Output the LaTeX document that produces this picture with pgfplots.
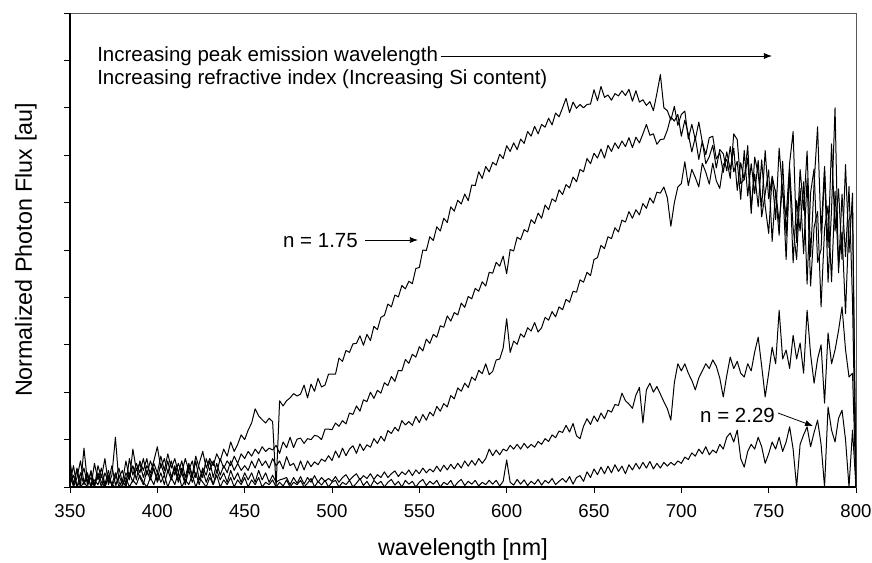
\documentclass[border=0pt]{standalone}
\usepackage{fontspec}
\setmainfont{Liberation Sans}
\usepackage{pgfplots}
\usepackage{pgfplotstable}
\pgfplotsset{compat=1.18}
\usetikzlibrary{arrows.meta}

\pgfplotstableread{
x c1 c2 c3 c4 c5
350 0.55 0.10 0.30 0.05 0.20
352 0.05 0.45 0.00 0.25 0.05
354 0.40 0.00 0.20 0.00 0.35
356 0.00 0.30 0.55 0.15 0.00
358 0.82 0.05 0.10 0.40 0.10
360 0.10 0.25 0.00 0.05 0.30
362 0.30 0.00 0.35 0.20 0.00
364 0.00 0.50 0.05 0.00 0.15
366 0.45 0.15 0.25 0.30 0.05
368 0.20 0.40 0.00 0.10 0.25
370 0.60 0.05 0.30 0.00 0.00
372 0.05 0.35 0.10 0.25 0.20
374 0.25 0.00 0.45 0.05 0.05
376 1.05 0.20 0.05 0.30 0.00
378 0.10 0.40 0.20 0.00 0.25
380 0.00 0.10 0.35 0.15 0.05
382 0.30 0.55 0.05 0.00 0.20
384 0.15 0.20 0.60 0.30 0.00
386 0.80 0.45 0.25 0.10 0.15
388 0.35 0.15 0.50 0.40 0.05
390 0.50 0.55 0.30 0.20 0.25
392 0.20 0.35 0.60 0.05 0.10
394 0.45 0.60 0.25 0.35 0.00
396 0.30 0.20 0.55 0.15 0.20
398 0.55 0.50 0.35 0.40 0.05
400 0.85 0.30 0.15 0.10 0.30
402 0.40 0.65 0.50 0.30 0.10
404 0.60 0.35 0.25 0.05 0.25
406 0.30 0.70 0.55 0.35 0.00
408 0.55 0.40 0.20 0.15 0.20
410 0.25 0.60 0.45 0.40 0.05
412 0.50 0.30 0.15 0.10 0.30
414 0.30 0.55 0.40 0.30 0.00
416 0.60 0.20 0.10 0.05 0.15
418 0.35 0.50 0.45 0.35 0.05
420 0.55 0.25 0.20 0.10 0.25
422 0.20 0.65 0.55 0.30 0.00
424 0.50 0.40 0.15 0.05 0.20
426 0.75 0.20 0.40 0.35 0.10
428 0.40 0.60 0.25 0.10 0.00
430 0.60 0.35 0.55 0.30 0.20
432 0.45 0.55 0.20 0.05 0.05
434 0.70 0.30 0.50 0.35 0.25
436 0.55 0.60 0.25 0.15 0.00
438 0.80 0.40 0.45 0.30 0.15
440 0.65 0.55 0.30 0.10 0.05
442 0.95 0.45 0.55 0.35 0.20
444 0.75 0.65 0.35 0.15 0.00
446 0.90 0.50 0.50 0.30 0.15
448 1.10 0.70 0.35 0.10 0.05
450 1.00 0.60 0.45 0.30 0.20
452 1.20 0.75 0.35 0.15 0.00
454 1.35 0.65 0.55 0.30 0.15
456 1.65 0.80 0.40 0.10 0.05
458 1.50 0.70 0.60 0.35 0.20
460 1.42 0.85 0.45 0.15 0.00
462 1.35 0.75 0.55 0.30 0.10
464 1.45 0.82 0.40 0.10 0.05
466 1.38 0.78 0.60 0.25 0.15
468 0.00 0.88 0.45 0.10 0.00
470 1.82 0.71 0.55 0.15 0.10
472 1.71 0.95 0.38 0.17 0.02
474 1.82 0.83 0.64 0.20 0.15
476 1.88 1.05 0.45 0.05 0.00
478 1.97 0.83 0.50 0.20 0.10
480 1.92 1.01 0.34 0.08 0.05
482 1.96 1.03 0.55 0.22 0.14
484 2.15 0.92 0.36 0.06 0.00
486 1.88 1.02 0.55 0.20 0.08
488 2.17 1.00 0.43 0.10 0.18
490 2.02 1.09 0.53 0.24 0.00
492 2.29 1.07 0.47 0.10 0.12
494 2.11 1.00 0.59 0.20 0.04
496 2.15 1.22 0.54 0.12 0.14
498 2.38 1.22 0.66 0.18 0.00
500 2.38 1.21 0.56 0.12 0.10
502 2.38 1.35 0.76 0.22 0.14
504 2.72 1.28 0.62 0.10 0.00
506 2.65 1.40 0.82 0.20 0.10
508 2.88 1.33 0.66 0.26 0.05
510 2.84 1.56 0.80 0.14 0.14
512 3.02 1.53 0.87 0.22 0.00
514 3.03 1.71 0.71 0.28 0.08
516 3.19 1.60 0.91 0.15 0.18
518 2.99 1.84 0.77 0.24 0.03
520 3.22 1.80 0.89 0.18 0.12
522 3.09 2.00 0.84 0.28 0.00
524 3.39 1.87 1.02 0.16 0.14
526 3.32 2.04 0.92 0.26 0.06
528 3.58 1.98 1.07 0.20 0.12
530 3.62 2.20 0.97 0.32 0.00
532 3.86 2.14 1.19 0.20 0.10
534 3.80 2.33 1.13 0.28 0.16
536 4.05 2.23 1.26 0.34 0.04
538 4.01 2.46 1.18 0.22 0.12
540 4.25 2.45 1.40 0.32 0.00
542 4.18 2.69 1.31 0.26 0.14
544 4.34 2.61 1.38 0.36 0.06
546 4.29 2.80 1.30 0.24 0.12
548 4.61 2.74 1.49 0.36 0.00
550 4.63 2.96 1.36 0.28 0.10
552 5.00 2.87 1.53 0.40 0.16
554 4.99 3.12 1.41 0.30 0.03
556 5.28 3.03 1.58 0.38 0.12
558 5.20 3.22 1.50 0.32 0.06
560 5.49 3.16 1.70 0.44 0.14
562 5.40 3.40 1.60 0.33 0.00
564 5.67 3.37 1.76 0.46 0.10
566 5.58 3.61 1.69 0.36 0.05
568 5.91 3.50 1.93 0.48 0.14
570 5.82 3.68 1.86 0.38 0.00
572 6.05 3.63 2.09 0.50 0.10
574 5.97 3.88 2.02 0.40 0.16
576 6.18 3.79 2.19 0.55 0.03
578 6.04 4.02 2.10 0.44 0.12
580 6.37 3.97 2.32 0.56 0.06
582 6.36 4.19 2.25 0.46 0.14
584 6.65 4.13 2.46 0.60 0.02
586 6.51 4.33 2.39 0.50 0.10
588 6.76 4.24 2.60 0.60 0.05
590 6.65 4.53 2.37 0.80 0.14
592 6.85 4.51 2.44 0.66 0.06
594 6.79 4.74 2.68 0.78 0.14
596 7.02 4.66 2.70 0.68 0.02
598 6.93 4.87 2.93 0.80 0.12
600 7.20 4.50 3.55 0.76 0.57
602 7.08 5.01 2.84 0.88 0.10
604 7.26 4.98 3.08 0.80 0.04
606 7.12 5.27 3.01 0.90 0.16
608 7.34 5.22 3.23 0.80 0.06
610 7.25 5.43 3.16 0.92 0.15
612 7.50 5.38 3.36 0.82 0.03
614 7.40 5.64 3.29 0.90 0.12
616 7.61 5.56 3.47 0.84 0.06
618 7.45 5.78 3.27 0.96 0.16
620 7.65 5.67 3.36 0.90 0.04
622 7.59 5.95 3.58 1.02 0.14
624 7.78 5.85 3.52 0.96 0.08
626 7.64 6.08 3.70 1.10 0.18
628 7.89 6.02 3.59 1.04 0.05
630 7.81 6.27 3.80 1.18 0.12
632 8.00 6.17 3.74 1.15 0.18
634 8.20 6.38 3.96 1.30 0.10
636 7.90 6.31 3.90 1.16 0.22
638 8.12 6.54 4.13 1.34 0.06
640 7.99 6.44 4.11 1.08 0.20
642 8.07 6.70 4.37 1.02 0.24
644 8.00 6.65 4.32 1.28 0.12
646 8.07 6.93 4.53 1.44 0.32
648 8.08 6.82 4.46 1.32 0.20
650 8.38 7.04 4.80 1.50 0.38
652 8.15 6.94 4.84 1.38 0.26
654 8.45 7.13 5.10 1.56 0.42
656 8.22 6.94 5.03 1.44 0.28
658 8.27 7.21 5.28 1.62 0.44
660 8.16 7.08 5.24 1.58 0.30
662 8.30 7.26 5.47 1.74 0.47
664 8.25 7.14 5.38 1.72 0.33
666 8.36 7.30 5.63 1.98 0.44
668 8.26 7.18 5.59 1.82 0.28
670 8.39 7.37 5.81 1.75 0.47
672 8.14 7.16 5.67 1.66 0.36
674 8.36 7.38 5.85 1.94 0.50
676 8.12 7.26 5.74 2.10 0.38
678 8.17 7.45 5.98 1.35 0.52
680 8.05 7.65 5.88 2.05 0.40
682 8.13 7.42 6.10 2.19 0.54
684 7.94 7.45 5.99 2.00 0.38
686 8.30 7.23 6.22 2.12 0.50
688 8.70 7.33 6.20 1.96 0.40
690 8.00 7.34 6.33 1.80 0.52
692 7.94 7.53 6.10 1.65 0.44
694 7.74 7.81 5.50 1.41 0.52
696 8.03 7.72 6.00 2.20 0.46
698 7.63 7.86 6.33 2.60 0.55
700 7.86 7.40 6.40 2.45 0.50
702 7.93 7.74 6.86 2.60 0.63
704 7.34 7.45 6.36 2.40 0.58
706 7.65 7.07 6.70 2.25 0.72
708 7.33 7.38 6.53 2.05 0.65
710 7.70 6.91 6.33 2.30 0.80
712 7.28 7.30 6.83 2.45 0.70
714 7.01 6.82 6.64 2.60 0.85
716 7.37 6.97 6.39 2.50 0.68
718 7.40 7.21 6.83 2.68 0.78
720 6.92 6.73 6.46 2.55 0.72
722 7.05 7.12 6.30 2.30 0.90
724 6.64 7.03 6.80 1.90 0.80
726 7.07 6.67 6.91 2.35 1.05
728 6.69 7.18 6.51 2.74 1.14
730 7.15 6.65 7.45 2.50 0.95
732 6.26 6.87 7.33 2.65 1.20
734 6.84 6.07 6.40 2.40 0.60
736 6.48 7.10 6.49 2.32 0.42
738 7.20 6.14 6.94 2.60 0.75
740 5.89 6.82 5.77 2.45 0.90
742 6.60 6.19 6.96 2.85 0.80
744 5.91 6.89 6.61 3.16 1.05
746 6.90 5.70 5.91 2.55 0.85
748 5.93 6.19 7.10 1.90 0.50
750 5.35 6.69 6.08 2.40 0.70
752 6.56 5.18 6.54 2.95 0.95
754 6.19 6.27 5.64 2.60 0.80
756 5.31 5.57 7.15 3.73 1.05
758 6.87 6.37 6.22 2.70 0.75
760 5.30 4.80 5.70 2.89 0.95
762 6.64 6.74 6.83 2.50 1.27
764 4.73 5.47 7.50 3.20 0.80
766 6.04 4.80 5.16 2.70 0.00
768 5.40 6.30 6.70 3.04 0.90
770 6.44 4.92 5.84 2.40 1.10
772 4.28 6.51 7.09 3.73 1.27
774 6.21 4.24 4.86 2.80 0.85
776 6.71 5.48 6.40 2.19 1.15
778 4.74 5.81 7.60 2.70 1.41
780 5.01 3.80 5.35 3.00 0.90
782 6.68 5.45 6.76 1.77 0.00
784 4.32 5.93 5.05 3.25 1.69
786 5.86 4.33 7.24 2.60 1.20
788 8.00 6.24 5.40 2.89 0.95
790 4.52 4.64 6.29 3.30 1.45
792 6.18 5.38 4.80 3.80 1.62
794 4.86 3.66 6.80 2.90 1.00
796 6.34 5.64 4.95 2.32 0.00
798 3.90 5.80 6.20 2.40 1.20
800 0.00 0.00 0.00 0.00 0.00
}\spectra

\begin{document}
\begin{tikzpicture}
\path[use as bounding box] (-70pt,-75pt) rectangle (802pt,487pt);
\begin{axis}[
  width=786pt, height=474pt, scale only axis,
  xmin=350, xmax=800, ymin=0, ymax=10,
  xtick={350,400,...,800}, ytick={0,1,...,10}, yticklabels={},
  tick align=outside, xtick pos=bottom, ytick pos=left,
  major tick length=6pt,
  every tick/.style={black, line width=0.8pt},
  axis line style={draw=black!65, line width=0.6pt},
  /pgf/number format/assume math mode=true,
  ticklabel style={font=\fontsize{18.6}{22}\selectfont},
  xticklabel style={anchor=base, yshift=-24pt},
  xlabel={wavelength [nm]},
  ylabel={Normalized Photon Flux [au]},
  every axis x label/.style={at={(axis description cs:0.5,0)}, anchor=base, yshift=-68pt, font=\fontsize{23.3}{28}\selectfont},
  every axis y label/.style={at={(axis description cs:0,0.5)}, anchor=base, xshift=-38pt, rotate=90, font=\fontsize{23.3}{28}\selectfont},
  spec/.style={black, line width=1.0pt, line join=round, mark=none},
  after end axis/.code={
    \draw[black, line width=1.4pt] (rel axis cs:0,1) -- (rel axis cs:0,0);
    \draw[black, line width=2pt] (rel axis cs:0,0) -- (rel axis cs:1,0);
  },
]
\addplot[spec] table[x=x, y=c1] {\spectra};
\addplot[spec] table[x=x, y=c2] {\spectra};
\addplot[spec] table[x=x, y=c3] {\spectra};
\addplot[spec] table[x=x, y=c4] {\spectra};
\addplot[spec] table[x=x, y=c5] {\spectra};

\node[anchor=base west, inner sep=0pt, font=\fontsize{20.5}{24}\selectfont] at (axis cs:365.5,8.987) {Increasing peak emission wavelength};
\node[anchor=base west, inner sep=0pt, font=\fontsize{20.5}{24}\selectfont] at (axis cs:365.5,8.481) {Increasing refractive index (Increasing Si content)};
\draw[-{Latex[length=8pt,width=6pt]}, line width=0.8pt] (axis cs:562.4,9.093) -- (axis cs:751.9,9.093);
\node[anchor=base west, inner sep=0pt, font=\fontsize{20.5}{24}\selectfont] at (axis cs:471.9,5.063) {n = 1.75};
\draw[-{Latex[length=8pt,width=6pt]}, line width=0.8pt] (axis cs:518.9,5.211) -- (axis cs:549.2,5.211);
\node[anchor=base west, inner sep=0pt, font=\fontsize{20.5}{24}\selectfont] at (axis cs:710.7,1.371) {n = 2.29};
\draw[-{Latex[length=8pt,width=6pt]}, line width=0.8pt] (axis cs:755.3,1.561) -- (axis cs:775.4,1.287);
\end{axis}
\end{tikzpicture}
\end{document}
